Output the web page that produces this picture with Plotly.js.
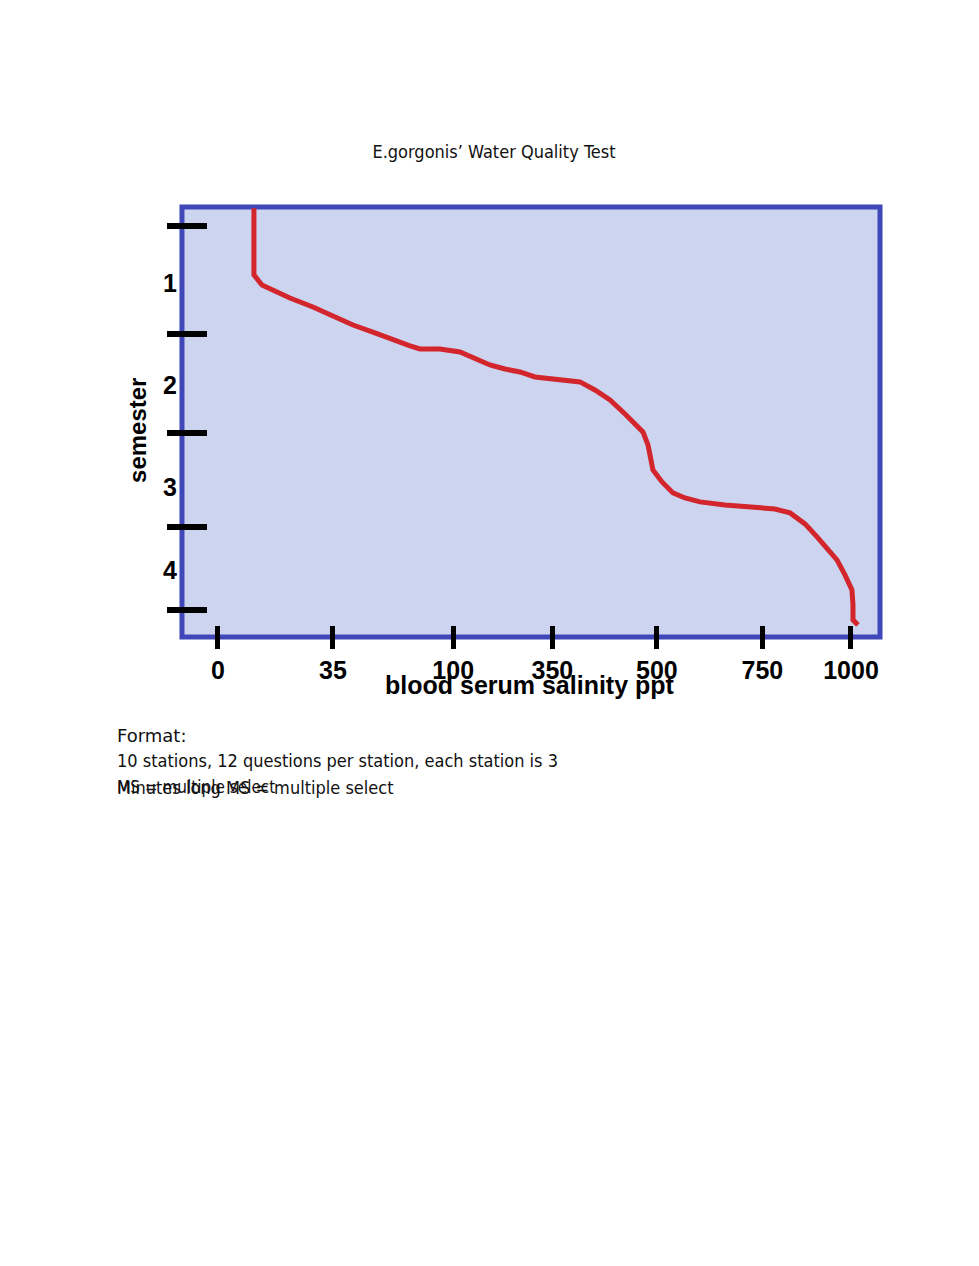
<!DOCTYPE html>
<html>
<head>
<meta charset="utf-8">
<script src="https://cdn.plot.ly/plotly-3.0.1.min.js"></script>
<style>html,body{margin:0;padding:0;background:#fff;}</style>
</head>
<body>
<div id="chart"></div>
<script>
// Salinity axis: tick labels and their positions along the (non-linear) scale
const salinityTickLabels = ['0', '35', '100', '350', '500', '750', '1000'];
const salinityTickPos = [0, 1.09, 2.23, 3.17, 4.16, 5.16, 6.0];
// Semester axis (label positions and the boundary marks between semesters)
const semesterLabels = ['1', '2', '3', '4'];
const semesterVals = [1, 2.07, 3.14, 4];
const semesterBounds = [0.404, 1.533, 2.567, 3.55, 4.417];
// Curve (x on salinity scale position, y in semesters)
const curveSalinity = [0.341, 0.341, 0.417, 0.521, 0.682, 0.900, 1.062, 1.280, 1.488, 1.659, 1.820, 1.915, 2.104, 2.294, 2.436, 2.578, 2.720, 2.863, 3.005, 3.194, 3.431, 3.573, 3.716, 3.858, 4.028, 4.076, 4.123, 4.209, 4.313, 4.427, 4.569, 4.806, 5.043, 5.280, 5.422, 5.564, 5.678, 5.782, 5.867, 5.943, 6.009, 6.019, 6.019, 6.066];
const curveSemester = [0.22, 0.916, 1.021, 1.073, 1.157, 1.251, 1.334, 1.439, 1.522, 1.596, 1.658, 1.690, 1.690, 1.721, 1.784, 1.857, 1.899, 1.930, 1.982, 2.003, 2.034, 2.118, 2.223, 2.369, 2.557, 2.693, 2.954, 3.079, 3.194, 3.247, 3.288, 3.320, 3.341, 3.362, 3.403, 3.518, 3.654, 3.790, 3.894, 4.051, 4.208, 4.365, 4.521, 4.574];

const pageTitle = 'E.gorgonis\u2019 Water Quality Test';
const xTitle = 'blood serum salinity ppt';
const yTitle = 'semester';
const noteLines = ['Format:', '10 stations, 12 questions per station, each station is 3', 'Minutes long MS = multiple select', 'MS = multiple select'];

const boldFont = '"Liberation Sans", Arial, sans-serif';

const trace = {
  x: curveSalinity, y: curveSemester, type: 'scatter', mode: 'lines',
  line: {color: '#d3262c', width: 5}, hoverinfo: 'skip', showlegend: false
};

const layout = {
  width: 979, height: 1266,
  paper_bgcolor: '#ffffff', plot_bgcolor: '#ccd4f0',
  margin: {l: 100, r: 99, t: 207, b: 566, autoexpand: false},
  title: {text: pageTitle, x: 0.5046, xref: 'container', xanchor: 'center', y: 0.88, yref: 'container', yanchor: 'middle',
          font: {family: '"DejaVu Sans Condensed", "DejaVu Sans", sans-serif', size: 18, color: '#111'}},
  xaxis: {
    domain: [0.1051, 1.0], anchor: 'free', position: 0.1521,
    range: [-0.341, 6.275], showgrid: false, zeroline: false, showline: false,
    tickmode: 'array', tickvals: salinityTickPos, ticktext: salinityTickLabels,
    ticks: 'outside', ticklen: 23, tickwidth: 5, tickcolor: '#000',
    tickfont: {family: boldFont, size: 25, color: '#000', weight: 'bold'},
    automargin: false
  },
  yaxis: {
    domain: [0.1278, 1.0], anchor: 'free', position: 0.1372,
    range: [4.70, 0.206], showgrid: false, zeroline: false, showline: false,
    tickmode: 'array', tickvals: semesterVals, ticktext: semesterLabels,
    ticks: '', ticklabelstandoff: 30,
    minor: {tickmode: 'array', tickvals: semesterBounds, ticks: 'outside', ticklen: 40, tickwidth: 6, tickcolor: '#000', showgrid: false},
    tickfont: {family: boldFont, size: 25, color: '#000', weight: 'bold'},
    automargin: false
  },
  shapes: [{type: 'rect', xref: 'x domain', yref: 'y domain', x0: 0, x1: 1, y0: 0, y1: 1,
            line: {color: '#3f47b9', width: 5}, layer: 'below'}],
  annotations: [
    {text: yTitle, xref: 'paper', yref: 'paper', x: 0.0487, y: 0.5477, textangle: -90, showarrow: false,
     xanchor: 'center', yanchor: 'middle', font: {family: boldFont, size: 24, color: '#000', weight: 'bold'}},
    {text: xTitle, xref: 'paper', yref: 'paper', x: 0.5513, y: 0.0304, showarrow: false,
     xanchor: 'center', yanchor: 'middle', font: {family: boldFont, size: 25, color: '#000', weight: 'bold'}},
    {text: noteLines[0], xref: 'paper', yref: 'paper', x: 0.0192, y: -0.071, showarrow: false, xanchor: 'left', yanchor: 'middle',
     font: {family: '"DejaVu Sans", sans-serif', size: 18, color: '#111'}},
    {text: noteLines[1], xref: 'paper', yref: 'paper', x: 0.0192, y: -0.1237, showarrow: false, xanchor: 'left', yanchor: 'middle',
     font: {family: '"DejaVu Sans Condensed", "DejaVu Sans", sans-serif', size: 18, color: '#111'}},
    {text: noteLines[2], xref: 'paper', yref: 'paper', x: 0.0192, y: -0.1765, showarrow: false, xanchor: 'left', yanchor: 'middle',
     font: {family: '"DejaVu Sans Condensed", "DejaVu Sans", sans-serif', size: 18, color: '#111'}},
    {text: noteLines[3], xref: 'paper', yref: 'paper', x: 0.0192, y: -0.1765, showarrow: false, xanchor: 'left', yanchor: 'middle',
     font: {family: '"DejaVu Sans Condensed", "DejaVu Sans", sans-serif', size: 17, color: '#111'}}
  ]
};

Plotly.newPlot('chart', [trace], layout, {staticPlot: true, displayModeBar: false});
</script>
</body>
</html>
